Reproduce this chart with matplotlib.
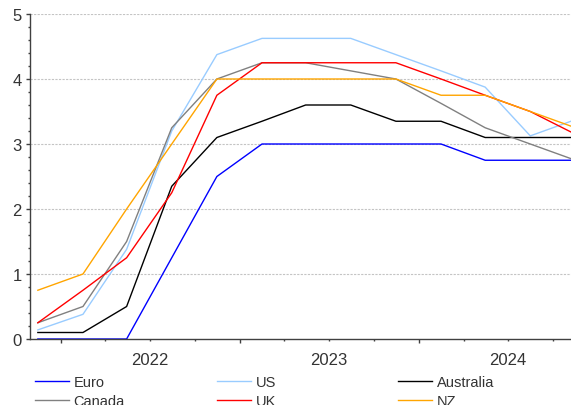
import numpy as np
import pandas as pd
import matplotlib
matplotlib.use('Agg')
import matplotlib.pyplot as plt
import matplotlib.dates as mdates
from matplotlib.ticker import FuncFormatter, NullFormatter, MultipleLocator

plt.rcParams['font.family'] = ['Liberation Sans', 'DejaVu Sans']

# quarterly points (mid-quarter)
dates = pd.to_datetime(['2021-11-15', '2022-02-15', '2022-05-15', '2022-08-15',
                        '2022-11-15', '2023-02-15', '2023-05-15', '2023-08-15',
                        '2023-11-15', '2024-02-15', '2024-05-15', '2024-08-15',
                        '2024-11-15'])

euro = [0, 0, 0, 1.25, 2.5, 3.0, 3.0, 3.0, 3.0, 3.0, 2.75, 2.75, 2.75]
us = [0.14, 0.38, 1.38, 3.2, 4.375, 4.625, 4.625, 4.625, 4.375, 4.125, 3.875, 3.125, 3.375]
australia = [0.1, 0.1, 0.5, 2.35, 3.1, 3.35, 3.6, 3.6, 3.35, 3.35, 3.1, 3.1, 3.1]
canada = [0.25, 0.5, 1.5, 3.25, 4.0, 4.25, 4.25, 4.125, 4.0, 3.625, 3.25, 3.0, 2.75]
uk = [0.25, 0.75, 1.25, 2.25, 3.75, 4.25, 4.25, 4.25, 4.25, 4.0, 3.75, 3.5, 3.15]
nz = [0.75, 1.0, 2.0, 3.0, 4.0, 4.0, 4.0, 4.0, 4.0, 3.75, 3.75, 3.5, 3.25]

fig = plt.figure(figsize=(5.71, 4.06), dpi=100)
ax = fig.add_axes([30/571, 66/406, 541/571, 325/406])

l_euro, = ax.plot(dates, euro, color='#0000ff', lw=1.0, label='Euro')
l_us, = ax.plot(dates, us, color='#99ccff', lw=1.0, label='US')
l_aus, = ax.plot(dates, australia, color='#000000', lw=1.0, label='Australia')
l_can, = ax.plot(dates, canada, color='#808080', lw=1.0, label='Canada')
l_uk, = ax.plot(dates, uk, color='#ff0000', lw=1.0, label='UK')
l_nz, = ax.plot(dates, nz, color='#ffa500', lw=1.0, label='NZ')

ax.set_xlim(pd.Timestamp('2021-10-30'), pd.Timestamp('2024-11-06'))
ax.set_ylim(0, 5)

for y in range(1, 6):
    ax.axhline(y, color='#c4c4c4', lw=0.8, ls=(0, (2, 1.2)), zorder=0)

for s in ['top', 'right']:
    ax.spines[s].set_visible(False)
for s in ['left', 'bottom']:
    ax.spines[s].set_color('#404040')
    ax.spines[s].set_linewidth(1.0)

ax.yaxis.set_major_locator(MultipleLocator(1))
ax.yaxis.set_minor_locator(MultipleLocator(0.2))
ax.tick_params(axis='y', which='major', length=3, width=1, color='#404040',
               labelsize=12, labelcolor='#333333', pad=3)
ax.tick_params(axis='y', which='minor', length=1.5, width=1, color='#404040')

# years at jan, quarters as minor, year label at july
ax.xaxis.set_major_locator(mdates.YearLocator())
ax.xaxis.set_major_formatter(NullFormatter())
ax.xaxis.set_minor_locator(mdates.MonthLocator(bymonth=[4, 7, 10]))

def year_lab(x, pos):
    d = mdates.num2date(x)
    return str(d.year) if d.month == 7 else ''

ax.xaxis.set_minor_formatter(FuncFormatter(year_lab))
ax.tick_params(axis='x', which='major', length=3, width=1, color='#404040')
ax.tick_params(axis='x', which='minor', length=1.5, width=1, color='#404040',
               labelsize=12, labelcolor='#333333', pad=8)

# legend, three columns
cols = [([l_euro, l_can], 35), ([l_us, l_uk], 217), ([l_aus, l_nz], 398)]
for hs, xp in cols:
    fig.legend(handles=hs, labels=[h.get_label() for h in hs], loc='upper left',
               bbox_to_anchor=(xp/571, 1 - 376/406), frameon=False, fontsize=10.5,
               handlelength=2.3, handletextpad=0.35, borderpad=0, borderaxespad=0,
               labelspacing=0.36, labelcolor='#333333')

fig.savefig('out.png', dpi=100)
